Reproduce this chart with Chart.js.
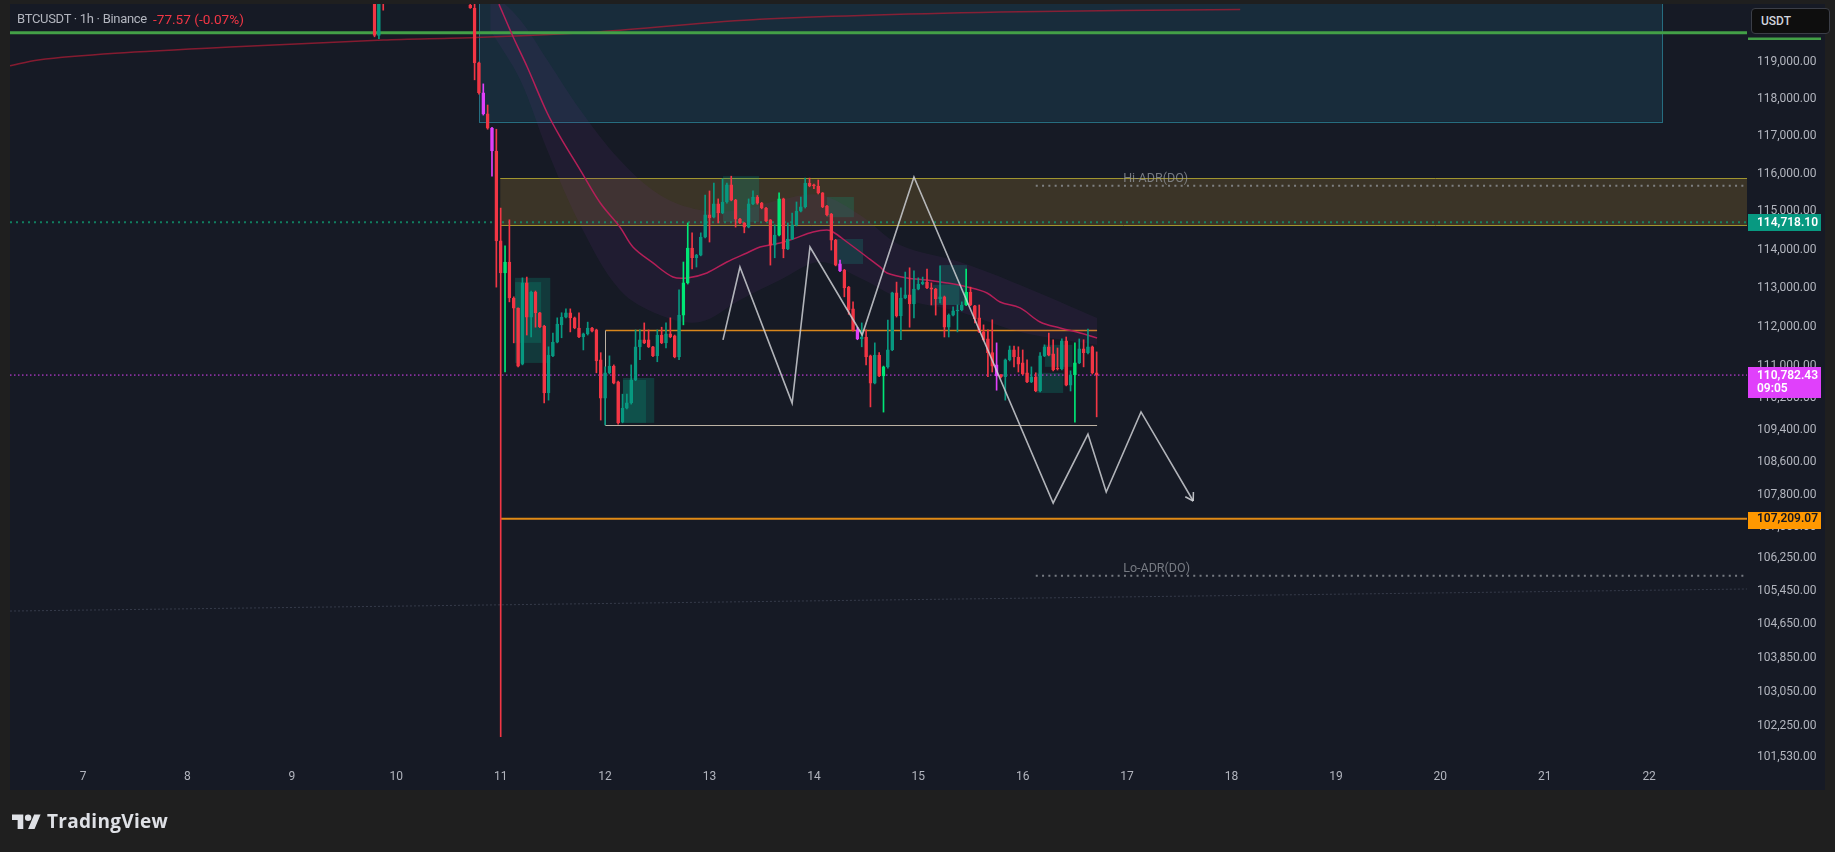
<!DOCTYPE html>
<html>
<head>
<meta charset="utf-8">
<script src="https://cdn.jsdelivr.net/npm/chart.js@4.4.1/dist/chart.umd.min.js"></script>
<style>
  html, body { margin: 0; padding: 0; background: #1f1f1f; width: 1835px; height: 852px; overflow: hidden; }
  #wrap { position: relative; width: 1835px; height: 852px; }
  #btc { position: absolute; left: 0; top: 0; }
  .title { position: absolute; left: 17px; top: 11px; font: 13px Roboto, sans-serif; letter-spacing: -0.3px; color: #b2b5be; white-space: nowrap; }
  .chg { position: absolute; left: 153px; top: 11px; font: 13.6px Roboto, sans-serif; color: #f23645; white-space: nowrap; }
  .usdt { position: absolute; left: 1751px; top: 8px; width: 68px; height: 24px; border: 1px solid #3b3e47; border-radius: 4px;
          background: #0e0e0e; color: #d1d4dc; font: 500 12px Roboto, sans-serif; line-height: 24px; padding-left: 9px; box-sizing: content-box; }
  .brand { position: absolute; left: 12px; top: 810px; display: flex; align-items: center; color: #dfe1e6; }
  .brand span { font: 700 19px "Open Sans", sans-serif; letter-spacing: 0.3px; margin-left: 6px; margin-top: -2px; }
</style>
</head>
<body>
<div id="wrap">
  <canvas id="btc" width="1835" height="852"></canvas>
  <div class="title">BTCUSDT · 1h · Binance</div>
  <div class="chg">-77.57 (-0.07%)</div>
  <div class="usdt">USDT</div>
  <div class="brand">
    <svg width="29" height="23" viewBox="0 0 36 28"><path fill="#dfe1e6" d="M14 22H7V11H0V4h14v18zM28 22h-8l7.5-18h8L28 22z"/><circle fill="#dfe1e6" cx="20" cy="8" r="4"/></svg>
    <span>TradingView</span>
  </div>
</div>
<script>
// time axis is in hours from Oct 7 00:00
const dayLabels = ['7', '8', '9', '10', '11', '12', '13', '14', '15', '16', '17', '18', '19', '20', '21', '22'];
const priceTicks = [119000, 118000, 117000, 116000, 115000, 114000, 113000, 112000, 111000, 110200,
  109400, 108600, 107800, 107000, 106250, 105450, 104650, 103850, 103050, 102250, 101530];

// hourly candles
const candleHours = [67, 68, 69].concat(Array.from({ length: 145 }, (_, i) => 89 + i));
const opens = [121200, 119720, 121400,
  120550, 120470, 118970, 118160, 117590, 117210, 116600, 114230, 113400, 113680,
  112750, 112490, 111060, 113140, 112260, 112900, 112370, 112030, 110330, 111270,
  111620, 112060, 112260, 112370, 112240, 111980, 111750, 111830, 111980, 111930,
  111170, 110200, 110840, 111010, 110610, 109600, 109950, 110080, 110660, 111500,
  111680, 111680, 111500, 111270, 111800, 111600, 111830, 111780, 111240, 112310,
  113140, 114040, 113790, 113860, 114330, 114910, 114850, 115200, 114960, 115250,
  115700, 115300, 114800, 114700, 114590, 115200, 115380, 115220, 115090, 114780,
  114120, 114380, 115330, 114020, 114280, 114650, 115010, 115120, 115750, 115700,
  115670, 115490, 115140, 114930, 114250, 113630, 113470, 113030, 112470, 111930,
  111700, 111750, 111270, 110580, 111290, 110760, 110990, 111420, 112880, 112290,
  112750, 112830, 112600, 112980, 113110, 113160, 113010, 112980, 112730, 112780,
  112000, 112310, 112420, 112440, 112570, 112900, 112550, 112240, 111880, 111700,
  111350, 111040, 110790, 110740, 111170, 111420, 111240, 111090, 110840, 110610,
  110740, 110380, 111270, 111500, 111320, 110960, 110940, 111650, 110530, 110790,
  111090, 111450, 111350, 111500, 110840];
const highs = [121500, 121300, 121800,
  120700, 120600, 118990, 118400, 117830, 117230, 117180, 115090, 114100, 114780,
  112780, 112500, 113270, 113290, 112930, 112930, 112380, 112050, 111500, 111850,
  112240, 112370, 112470, 112470, 112260, 112370, 111850, 112130, 112000, 111950,
  111350, 110990, 111270, 111040, 110630, 110300, 110300, 111040, 111930, 111930,
  112110, 111930, 111510, 111930, 112000, 112110, 112240, 111800, 112960, 113680,
  114700, 114440, 113880, 114440, 115430, 115540, 115750, 115330, 115860, 115750,
  115930, 115320, 114820, 114710, 115330, 115540, 115420, 115240, 115110, 114790,
  114650, 115490, 115350, 114700, 114960, 115250, 115380, 115880, 115880, 115720,
  115830, 115500, 115160, 114950, 114270, 113730, 113490, 113050, 112650, 112000,
  112110, 111930, 111290, 111600, 111350, 111010, 112180, 112900, 113160, 113010,
  113420, 113530, 113450, 113270, 113290, 113500, 113140, 113000, 113580, 112800,
  112340, 112520, 112570, 112650, 113500, 113030, 112560, 112570, 112060, 111930,
  112190, 111600, 110800, 111190, 111520, 111520, 111500, 111420, 111170, 110990,
  110840, 111350, 111550, 111850, 111680, 111470, 111700, 111750, 110890, 111600,
  111700, 111680, 111950, 111520, 111370];
const lows = [119680, 119630, 120410,
  120460, 118510, 118120, 117560, 117180, 115930, 113030, 102000, 110860, 112650,
  111600, 110990, 111040, 111800, 111750, 112000, 111990, 110080, 110150, 111250,
  111600, 111730, 112240, 111880, 111960, 111730, 111420, 111800, 111880, 110840,
  109650, 109530, 110810, 110560, 109550, 109580, 109930, 110050, 110640, 111170,
  111580, 111480, 111250, 111120, 111580, 111470, 111730, 111220, 111170, 112060,
  113110, 113500, 113550, 113840, 114310, 114200, 114830, 114700, 114940, 115220,
  115280, 114590, 114680, 114440, 114570, 115180, 115190, 115070, 114730, 113600,
  113790, 114360, 113790, 114000, 114260, 114620, 114990, 115090, 115650, 115600,
  115460, 115100, 114880, 113990, 113580, 113430, 112780, 112330, 111900, 111680,
  111500, 111040, 109980, 110560, 110740, 109850, 110960, 111400, 112260, 111680,
  112730, 112000, 112240, 112960, 113090, 112990, 112570, 112310, 112620, 111750,
  111750, 112290, 111880, 112420, 112550, 112550, 112110, 111860, 111650, 110740,
  110860, 110400, 110710, 110150, 111140, 110990, 110860, 110790, 110590, 110590,
  110360, 110360, 111250, 111270, 110890, 110910, 110910, 110510, 110380, 109600,
  111070, 110990, 111320, 110810, 109730];
const closes = [119720, 120900, 120700,
  120470, 118970, 118160, 117590, 117210, 116600, 114230, 113400, 113680, 112750,
  112490, 111010, 113140, 112260, 112900, 112370, 112010, 110330, 111290, 111620,
  112080, 112260, 112370, 112240, 111980, 111750, 111830, 111980, 111900, 111140,
  110200, 110840, 111010, 110580, 109580, 109950, 110080, 110660, 111500, 111680,
  111600, 111500, 111270, 111800, 111600, 111830, 111750, 111240, 112310, 113140,
  114040, 113790, 113860, 114330, 114910, 114830, 115200, 114960, 115250, 115700,
  115300, 114800, 114700, 114590, 115200, 115380, 115220, 115090, 114750, 114120,
  114380, 115330, 114020, 114280, 114650, 115010, 115120, 115750, 115670, 115670,
  115490, 115120, 114910, 114250, 113600, 113450, 113010, 112440, 111930, 111700,
  111750, 111240, 110580, 111290, 110760, 110990, 111420, 112880, 112290, 112750,
  112830, 112600, 112980, 113110, 113160, 113010, 112980, 112730, 112780, 112000,
  112310, 112420, 112440, 112570, 112900, 112570, 112210, 111880, 111680, 111350,
  111010, 110760, 110740, 111170, 111420, 111240, 111060, 110810, 110610, 110740,
  110380, 111270, 111500, 111290, 110910, 110940, 111650, 110530, 110790, 111090,
  111450, 111350, 111500, 110840, 110782.43];
const brightHours = [97, 138, 139, 160, 184, 203, 228];
const magentaHours = [92, 94, 174, 178, 210];

// moving average + its envelope
const emaHours = [95.6, 98.9, 102.1, 106.7, 109.7, 114.3, 118.9, 123.4, 126.4, 131, 135.6, 138.9, 143.4, 148,
  152.6, 155.6, 160.2, 163.2, 167.8, 171, 172.4, 175.6, 180.2, 183.2, 184.8, 189.4, 194, 198.6, 203.2, 207.8,
  210.8, 215.4, 220, 224.6, 229.2, 233.1];
const emaValues = [120576, 119667, 118857, 117615, 116971, 116092, 115222, 114593, 114070, 113656, 113293,
  113267, 113397, 113681, 113915, 114070, 114175, 114280, 114462, 114514, 114462, 114201, 113811, 113552,
  113397, 113267, 113214, 113137, 113034, 112879, 112648, 112494, 112134, 111980, 111853, 111726];
const bandHours = [93.6, 100.5, 106.7, 114.3, 123.4, 132.6, 141.8, 151, 160.2, 169.4, 178.6, 187.8, 201.6, 215.4, 233.1];
const bandUpper = [120958, 120139, 119046, 117696, 116359, 115432, 115037, 115037, 115300, 115432, 114906,
  114123, 113681, 113085, 112237];
const bandLower = [119866, 118506, 116625, 114645, 112956, 112314, 112134, 112699, 113214, 113681, 113267,
  112751, 112391, 111878, 111548];
const maHours = [-16.8, -10.3, 7.4, 33.8, 69, 90.1, 118.9, 155.6, 210.8, 266];
const maValues = [118890, 119050, 119230, 119400, 119590, 119660, 119820, 120160, 120360, 120430];

// drawn projection path
const pathHours = [147.1, 151, 163, 167.1, 179.1, 191, 223, 231, 235.2, 243.2, 255.2];
const pathValues = [111675, 113552, 110077, 114070, 111802, 115908, 107593, 109300, 107863, 109853, 107642];

// levels
const greenLevel = 119790;
const tealLevel = 114718.10;
const lastPrice = 110782.43;
const orangeLevel = 107209.07;
const hiAdr = 115680;
const loAdr = 105820;
const faintStart = 104970, faintEnd = 105500;

// boxes: [start hour, end hour, top price, bottom price]
const blueBox = [91.1, 363, 122500, 117380];
const supplyZone = [95.9, 382.5, 115870, 114640];
const rangeBox = [120, 233.1, 111920, 109530];
const orderBlocks = [
  [99.3, 107.4, 113270, 111090], [99.3, 105.3, 113160, 111600],
  [124.1, 131.3, 110710, 109580], [124.1, 129.4, 110660, 109580],
  [147.1, 155.4, 115930, 114720], [171, 177.2, 115380, 114850],
  [173.3, 179.3, 114280, 113630], [197, 203.2, 113600, 112570],
  [195.4, 201.4, 113090, 112570], [221.1, 227.4, 111550, 110990],
  [219.3, 225.3, 110840, 110330]
];

const T_MIN = -16.8, T_MAX = 382.5;

function tone(i) {
  const h = candleHours[i];
  if (magentaHours.includes(h)) return 'magenta';
  if (brightHours.includes(h)) return 'bright';
  return closes[i] >= opens[i] ? 'up' : 'down';
}
const edge = { up: '#089981', down: '#f23645', bright: '#00e676', magenta: '#e040fb' };
const fillC = { up: 'rgba(8,153,129,0.25)', down: '#f23645', bright: '#00e676', magenta: '#e040fb' };

const pts = (xs, ys) => xs.map((t, i) => ({ x: t, y: ys[i] }));
const flat = (t0, t1, v) => [{ x: t0, y: v }, { x: t1, y: v }];
const fmt = v => v.toLocaleString('en-US', { minimumFractionDigits: 2, maximumFractionDigits: 2 });

const decor = {
  id: 'decor',
  beforeDraw(chart) {
    const { ctx } = chart;
    ctx.save();
    ctx.fillStyle = '#161a25';
    ctx.fillRect(10, 4, 1815, 786);
    ctx.restore();
  },
  beforeDatasetsDraw(chart) {
    const { ctx, chartArea: a, scales: { x, y } } = chart;
    ctx.save();
    ctx.beginPath();
    ctx.rect(a.left, a.top, a.right - a.left, a.bottom - a.top);
    ctx.clip();
    const box = (b, fill, stroke) => {
      const x0 = x.getPixelForValue(b[0]), x1 = x.getPixelForValue(b[1]);
      const y0 = y.getPixelForValue(b[2]), y1 = y.getPixelForValue(b[3]);
      if (fill) { ctx.fillStyle = fill; ctx.fillRect(x0, y0, x1 - x0, y1 - y0); }
      if (stroke) {
        ctx.strokeStyle = stroke; ctx.lineWidth = 1;
        ctx.strokeRect(Math.round(x0) + 0.5, Math.round(y0) + 0.5, Math.round(x1 - x0), Math.round(y1 - y0));
      }
    };
    box(blueBox, 'rgba(30,110,140,0.22)', 'rgba(42,130,150,0.8)');
    box(supplyZone, 'rgba(125,100,45,0.36)', null);
    ctx.strokeStyle = '#a0952f'; ctx.lineWidth = 1;
    const zx0 = x.getPixelForValue(supplyZone[0]), zx1 = x.getPixelForValue(supplyZone[1]);
    for (const v of [supplyZone[2], supplyZone[3]]) {
      const py = Math.round(y.getPixelForValue(v)) + 0.5;
      ctx.beginPath(); ctx.moveTo(zx0, py); ctx.lineTo(zx1, py); ctx.stroke();
    }
    orderBlocks.forEach(b => box(b, 'rgba(10,160,130,0.24)', null));

    // range box: orange top, lighter sides
    const rx0 = Math.round(x.getPixelForValue(rangeBox[0])) + 0.5, rx1 = x.getPixelForValue(rangeBox[1]);
    const ry0 = Math.round(y.getPixelForValue(rangeBox[2])) + 0.5, ry1 = Math.round(y.getPixelForValue(rangeBox[3])) + 0.5;
    ctx.lineWidth = 1.5;
    ctx.strokeStyle = '#d8861c';
    ctx.beginPath(); ctx.moveTo(rx0, ry0); ctx.lineTo(rx1, ry0); ctx.stroke();
    ctx.lineWidth = 1;
    ctx.strokeStyle = '#bcb2a4';
    ctx.beginPath(); ctx.moveTo(rx0, ry0); ctx.lineTo(rx0, ry1); ctx.lineTo(rx1, ry1); ctx.stroke();
    ctx.restore();
  },
  afterDatasetsDraw(chart) {
    const { ctx, chartArea: a, scales: { x, y } } = chart;
    ctx.save();
    // arrow head on the projection path
    const n = pathHours.length;
    const px = x.getPixelForValue(pathHours[n - 1]), py = y.getPixelForValue(pathValues[n - 1]);
    const qx = x.getPixelForValue(pathHours[n - 2]), qy = y.getPixelForValue(pathValues[n - 2]);
    const ang = Math.atan2(py - qy, px - qx);
    ctx.strokeStyle = 'rgba(205,207,212,0.9)'; ctx.lineWidth = 1.5;
    ctx.beginPath();
    for (const s of [-1, 1]) {
      ctx.moveTo(px, py);
      ctx.lineTo(px - 9 * Math.cos(ang + s * 0.55), py - 9 * Math.sin(ang + s * 0.55));
    }
    ctx.stroke();

    // ADR labels
    ctx.font = '12.5px Roboto, sans-serif';
    ctx.fillStyle = 'rgba(150,153,160,0.75)';
    ctx.textAlign = 'left'; ctx.textBaseline = 'middle';
    ctx.fillText('Hi-ADR(DO)', x.getPixelForValue(239.1), y.getPixelForValue(hiAdr) - 7);
    ctx.fillText('Lo-ADR(DO)', x.getPixelForValue(239.1), y.getPixelForValue(loAdr) - 7);

    // price axis tags
    const ax = a.right + 1, aw = 73, tx = a.right + 10;
    ctx.fillStyle = '#43a047';
    ctx.fillRect(ax, 37.5, aw, 2.5);
    const tag = (v, bg, fg, lines, up, h) => {
      const yy = y.getPixelForValue(v);
      ctx.fillStyle = bg;
      ctx.fillRect(ax, Math.round(yy - up), aw, h);
      ctx.fillStyle = fg;
      ctx.font = '600 12px Roboto, sans-serif';
      lines.forEach((t, i) => ctx.fillText(t, tx, yy + 0.5 + i * 13.5));
    };
    tag(tealLevel, '#089981', '#ffffff', [fmt(tealLevel)], 8, 17);
    tag(lastPrice, '#e040fb', '#ffffff', [fmt(lastPrice), '09:05'], 8, 31);
    tag(orangeLevel, '#ff9800', '#131722', [fmt(orangeLevel)], 7, 17);
    ctx.restore();
  }
};

const ctx = document.getElementById('btc').getContext('2d');
Chart.defaults.font.family = 'Roboto, sans-serif';

const myChart = new Chart(ctx, {
  type: 'bar',
  data: {
    datasets: [
      { type: 'line', data: pts(pathHours, pathValues), borderColor: 'rgba(205,207,212,0.85)', borderWidth: 1.6,
        pointRadius: 0, order: 0 },
      { type: 'bar', data: candleHours.map((t, i) => ({ x: t, y: [Math.min(opens[i], closes[i]), Math.max(opens[i], closes[i])] })),
        barThickness: 3, grouped: false, borderWidth: 1, borderSkipped: false,
        backgroundColor: c => fillC[tone(c.dataIndex)], borderColor: c => edge[tone(c.dataIndex)], order: 1 },
      { type: 'bar', data: candleHours.map((t, i) => ({ x: t, y: [lows[i], highs[i]] })),
        barThickness: 1, grouped: false, borderWidth: 0,
        backgroundColor: c => edge[tone(c.dataIndex)], order: 2 },
      { type: 'line', data: pts(emaHours, emaValues), borderColor: '#b51f58', borderWidth: 1.5, tension: 0.35,
        pointRadius: 0, order: 3 },
      { type: 'line', data: flat(T_MIN, T_MAX, lastPrice), borderColor: '#e040fb', borderWidth: 1, borderDash: [1.5, 2.5],
        pointRadius: 0, order: 4 },
      { type: 'line', data: flat(T_MIN, T_MAX, tealLevel), borderColor: 'rgba(16,150,110,0.8)', borderWidth: 2, borderDash: [2, 4],
        pointRadius: 0, order: 5 },
      { type: 'line', data: flat(95.9, T_MAX, orangeLevel), borderColor: '#e08a16', borderWidth: 2,
        pointRadius: 0, order: 5 },
      { type: 'line', data: flat(219, T_MAX, hiAdr), borderColor: 'rgba(150,153,160,0.75)', borderWidth: 2, borderDash: [2, 4.3],
        pointRadius: 0, order: 6 },
      { type: 'line', data: flat(219, T_MAX, loAdr), borderColor: 'rgba(150,153,160,0.75)', borderWidth: 2, borderDash: [2, 4.3],
        pointRadius: 0, order: 6 },
      { type: 'line', data: flat(T_MIN, T_MAX, greenLevel), borderColor: '#43a047', borderWidth: 3,
        pointRadius: 0, order: 6 },
      { type: 'line', data: pts(maHours, maValues), borderColor: 'rgba(170,28,52,0.75)', borderWidth: 1.5, tension: 0.3,
        pointRadius: 0, order: 7 },
      { type: 'line', data: flat(T_MIN, T_MAX, faintStart).map((p, i) => i ? { x: p.x, y: faintEnd } : p),
        borderColor: 'rgba(90,98,118,0.45)', borderWidth: 1, borderDash: [2, 2], pointRadius: 0, order: 8 },
      { type: 'line', data: pts(bandHours, bandUpper), borderWidth: 0, borderColor: 'transparent', tension: 0.35,
        pointRadius: 0, fill: false, order: 20 },
      { type: 'line', data: pts(bandHours, bandLower), borderWidth: 0, borderColor: 'transparent', tension: 0.35,
        pointRadius: 0, fill: '-1', backgroundColor: 'rgba(110,50,140,0.12)', order: 21 }
    ]
  },
  options: {
    responsive: false,
    animation: false,
    events: [],
    layout: { padding: { left: 10, top: 4, right: 10, bottom: 62 } },
    plugins: { legend: { display: false }, tooltip: { enabled: false } },
    scales: {
      x: {
        type: 'linear', min: T_MIN, max: T_MAX, offset: false,
        grid: { display: false, drawTicks: false }, border: { display: false },
        afterBuildTicks: s => { s.ticks = dayLabels.map((d, i) => ({ value: i * 24 })); },
        afterFit: s => { s.height = 28; s.paddingLeft = 0; s.paddingRight = 0; },
        ticks: { color: '#b2b5be', font: { size: 12 }, padding: 8, maxRotation: 0, autoSkip: false,
          callback: (v, i) => dayLabels[i] }
      },
      y: {
        type: 'logarithmic', position: 'right', min: 101413, max: 120580,
        grid: { display: false, drawTicks: false }, border: { display: false },
        afterBuildTicks: s => { s.ticks = priceTicks.map(v => ({ value: v })); },
        afterFit: s => { s.width = 78; s.paddingTop = 0; s.paddingBottom = 0; },
        ticks: { color: '#b2b5be', font: { size: 12 }, padding: 10, crossAlign: 'near', autoSkip: false,
          callback: v => fmt(v) }
      }
    }
  },
  plugins: [decor]
});

myChart.update();
</script>
</body>
</html>
